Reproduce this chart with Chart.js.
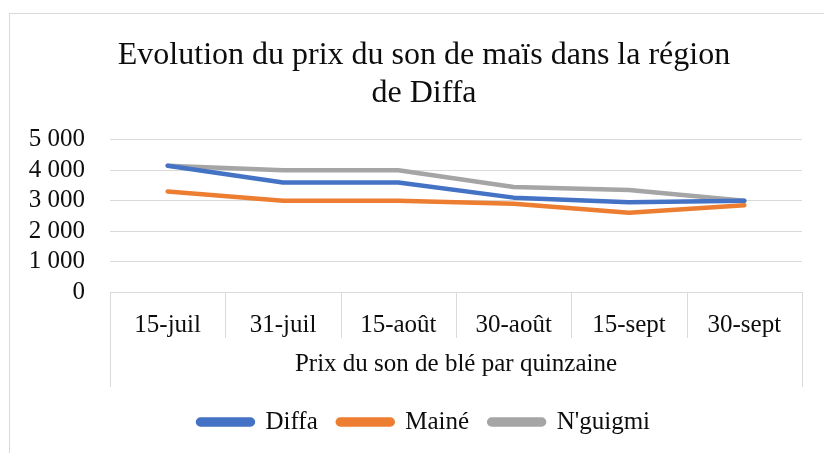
<!DOCTYPE html>
<html>
<head>
<meta charset="utf-8">
<script src="https://cdn.jsdelivr.net/npm/chart.js@4/dist/chart.umd.min.js"></script>
<style>
  html, body { margin: 0; padding: 0; background: #fff; }
  #wrap { position: relative; width: 824px; height: 453px; }
</style>
</head>
<body>
<div id="wrap"><canvas id="chart" width="824" height="453"></canvas></div>
<script>
  // data
  var CATEGORIES = ['15-juil', '31-juil', '15-août', '30-août', '15-sept', '30-sept'];
  var DIFFA   = [4150, 3600, 3600, 3100, 2950, 3000];
  var MAINE   = [3300, 3000, 3000, 2900, 2600, 2850];
  var NGUIGMI = [4150, 4000, 4000, 3450, 3350, 3000];
  var Y_TICKS = [0, 1000, 2000, 3000, 4000, 5000];
  var TITLE = ['Evolution du prix du son de maïs dans la région', 'de Diffa'];
  var X_TITLE = 'Prix du son de blé par quinzaine';

  var FONT = "'Liberation Serif', 'Times New Roman', serif";
  var GRID = '#d9d9d9';
  var INK = '#0d0d0d';

  function fmt(v) {
    return String(v).replace(/\B(?=(\d{3})+(?!\d))/g, ' ');
  }

  function ds(label, data, color) {
    return {
      label: label, data: data,
      borderColor: color, backgroundColor: color,
      borderWidth: 4.5, pointRadius: 0,
      borderCapStyle: 'round', borderJoinStyle: 'round',
      tension: 0
    };
  }

  // outer frame + category table lines
  var frame = {
    id: 'frame',
    beforeDraw: function(chart) {
      var c = chart.ctx;
      c.save();
      c.strokeStyle = GRID;
      c.lineWidth = 1;
      c.strokeRect(9.5, 13.5, 830, 460);
      c.restore();
    },
    afterDraw: function(chart) {
      var x = chart.scales.x, a = chart.chartArea, c = chart.ctx;
      var n = CATEGORIES.length;
      c.save();
      c.strokeStyle = GRID;
      c.lineWidth = 1;
      for (var i = 0; i <= n; i++) {
        var px;
        if (i === 0) px = a.left;
        else if (i === n) px = a.right;
        else px = (x.getPixelForTick(i - 1) + x.getPixelForTick(i)) / 2;
        px = Math.round(px) + 0.5;
        var len = (i === 0 || i === n) ? 95 : 46;
        c.beginPath();
        c.moveTo(px, a.bottom);
        c.lineTo(px, a.bottom + len);
        c.stroke();
      }
      c.restore();
    }
  };

  new Chart(document.getElementById('chart'), {
    type: 'line',
    data: {
      labels: CATEGORIES,
      datasets: [
        ds('Diffa', DIFFA, '#4472C4'),
        ds('Mainé', MAINE, '#ED7D31'),
        ds("N'guigmi", NGUIGMI, '#A5A5A5')
      ]
    },
    options: {
      responsive: false,
      animation: false,
      layout: { padding: { top: 36, left: 46, right: 22, bottom: 8.5 } },
      plugins: {
        title: {
          display: true, text: TITLE, color: INK,
          font: { family: FONT, size: 32, weight: 'normal', lineHeight: 1.2 },
          padding: { top: 0, bottom: 27 }
        },
        legend: {
          position: 'bottom',
          labels: {
            color: INK, font: { family: FONT, size: 25 },
            boxWidth: 55, boxHeight: 5, padding: 20,
            useBorderRadius: true, borderRadius: 2.5
          }
        },
        tooltip: { enabled: false }
      },
      scales: {
        x: {
          offset: true,
          grid: { display: false, drawTicks: false },
          border: { display: true, color: GRID },
          ticks: { color: INK, font: { family: FONT, size: 25 }, padding: 18.5, maxRotation: 0, autoSkip: false },
          title: {
            display: true, text: X_TITLE, color: INK,
            font: { family: FONT, size: 25 }, padding: { top: 10, bottom: 10.5 }
          },
          afterFit: function(s) { s.height = 97.5; }
        },
        y: {
          min: 0, max: 5000,
          afterBuildTicks: function(s) { s.ticks = Y_TICKS.map(function(v) { return { value: v }; }); },
          grid: { color: GRID, drawTicks: false },
          border: { display: false },
          ticks: {
            color: INK, font: { family: FONT, size: 25 }, padding: 25, autoSkip: false,
            callback: function(v) { return fmt(v); }
          },
          afterFit: function(s) {
            s.width = 64;
            // labels reach past the narrow box into the left padding: don't clip them
            s._computeLabelArea = function() { return undefined; };
          }
        }
      }
    },
    plugins: [frame]
  });
</script>
</body>
</html>
